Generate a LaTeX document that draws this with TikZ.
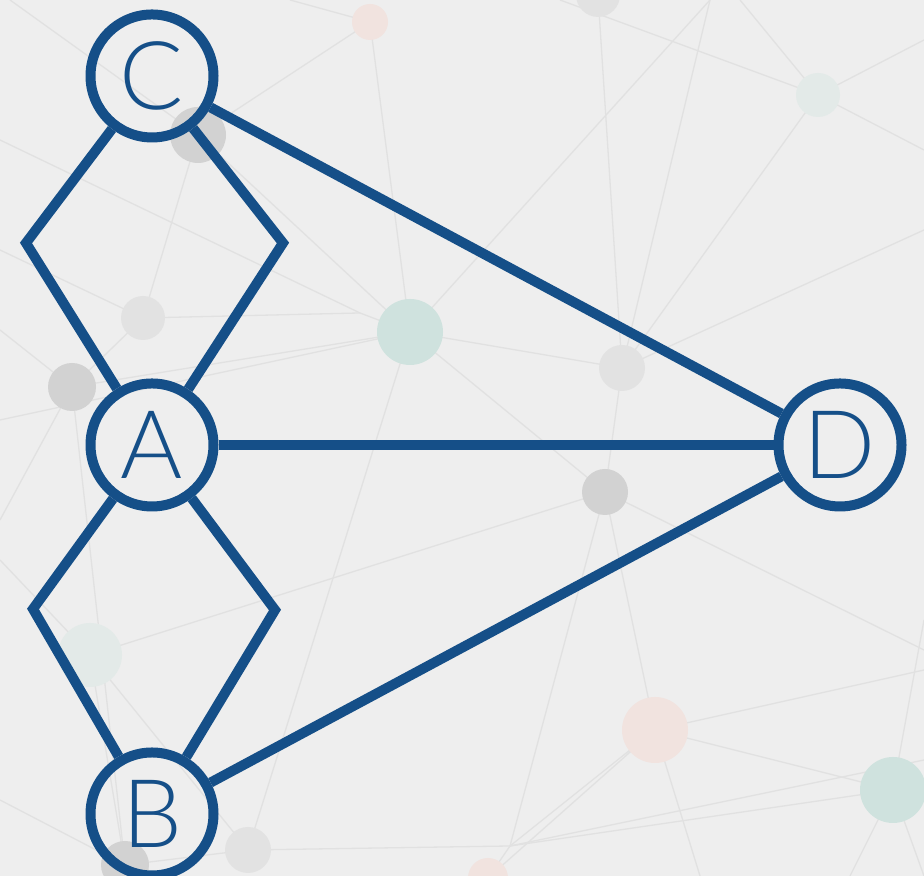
\documentclass[tikz,border=0pt]{standalone}
\usepackage{fontspec}
\setmainfont{Liberation Sans}
\newfontfamily\landfont{Lato}[UprightFont={* Light}]
\usepackage{tikz}
\usepackage{xcolor}
\definecolor{myblue}{HTML}{154F88}
\definecolor{mybg}{HTML}{EEEEEE}
\definecolor{mynet}{HTML}{E1E1E1}
\definecolor{mygrey}{HTML}{D2D2D2}
\definecolor{mylight}{HTML}{E2E2E2}
\definecolor{myteal}{HTML}{CFE2DE}
\definecolor{mypale}{HTML}{E3EAE8}
\definecolor{mypink}{HTML}{F1E3DF}

\begin{document}
\begin{tikzpicture}[
    land/.style={circle, draw=myblue, line width=0.1cm, minimum size=1.23cm, inner sep=0pt, text=myblue, font=\landfont\fontsize{27}{27}\selectfont},
    bridge/.style={draw=myblue, line width=0.1cm},
    net/.style={draw=mynet, line width=0.013cm}
]
    \useasboundingbox (0, 0) rectangle (9.24, 8.76);
    \clip (0, 0) rectangle (9.24, 8.76);
    \fill[mybg] (0, 0) rectangle (9.24, 8.76);
    \coordinate (n1) at (3.70, 8.54);
    \coordinate (n2) at (5.98, 8.81);
    \coordinate (n3) at (8.18, 7.81);
    \coordinate (n4) at (1.98, 7.41);
    \coordinate (n5) at (1.43, 5.58);
    \coordinate (n6) at (4.10, 5.44);
    \coordinate (n7) at (6.22, 5.08);
    \coordinate (n8) at (0.72, 4.89);
    \coordinate (n9) at (6.05, 3.84);
    \coordinate (n10) at (0.90, 2.21);
    \coordinate (n11) at (6.55, 1.46);
    \coordinate (n12) at (8.93, 0.86);
    \coordinate (n13) at (2.48, 0.26);
    \coordinate (n14) at (1.25, 0.11);
    \coordinate (n15) at (4.88, -0.02);
    \coordinate (n16) at (3.60, 5.63);
    \coordinate (n17) at (5.10, 0.30);
    \draw[net] (0.10, 8.76) -- (n4) -- (n1) -- (2.90, 8.76);
    \draw[net] (0, 7.36) -- (n16) -- (n6) -- (7.10, 8.76);
    \draw[net] (n4) -- (n6) -- (n1);
    \draw[net] (n4) -- (n5) -- (n8);
    \draw[net] (0, 6.26) -- (n5) -- (n16);
    \draw[net] (0, 4.56) -- (n6) -- (n7) -- (7.10, 8.76);
    \draw[net] (n6) -- (n13);
    \draw[net] (n6) -- (n9);
    \draw[net] (n8) -- (n6);
    \draw[net] (n2) -- (n7) -- (n3) -- (7.40, 8.76);
    \draw[net] (9.24, 7.26) -- (n3) -- (9.24, 8.36);
    \draw[net] (5.60, 8.76) -- (n3);
    \draw[net] (n7) -- (9.24, 6.46);
    \draw[net] (0, 5.46) -- (n8) -- (n14);
    \draw[net] (0, 3.56) -- (n8);
    \draw[net] (n7) -- (n9) -- (n11) -- (n12) -- (9.24, 2.56);
    \draw[net] (n9) -- (n10) -- (0, 3.16);
    \draw[net] (n9) -- (9.24, 2.26);
    \draw[net] (n9) -- (n17) -- (n12);
    \draw[net] (n10) -- (n14);
    \draw[net] (n10) -- (n13) -- (n17) -- (n11) -- (n15);
    \draw[net] (n11) -- (9.24, 2.06);
    \draw[net] (n11) -- (7.00, 0);
    \draw[net] (n12) -- (8.50, 0);
    \draw[net] (n12) -- (9.24, 0);
    \draw[net] (n17) -- (9.24, 1.16);
    \draw[net] (n17) -- (n15);
    \draw[net] (n13) -- (n14) -- (0, 0.76);
    \fill[mypink] (n1) circle (0.18);
    \fill[mylight] (n2) circle (0.22);
    \fill[mypale] (n3) circle (0.22);
    \fill[mygrey] (n4) circle (0.28);
    \fill[mylight] (n5) circle (0.22);
    \fill[myteal] (n6) circle (0.33);
    \fill[mylight] (n7) circle (0.23);
    \fill[mygrey] (n8) circle (0.24);
    \fill[mygrey] (n9) circle (0.23);
    \fill[mypale] (n10) circle (0.32);
    \fill[mypink] (n11) circle (0.33);
    \fill[myteal] (n12) circle (0.33);
    \fill[mylight] (n13) circle (0.23);
    \fill[mygrey] (n14) circle (0.24);
    \fill[mypink] (n15) circle (0.20);
    \node[land] (C) at (1.52, 8.00) {C};
    \node[land] (A) at (1.52, 4.31) {A};
    \node[land] (B) at (1.52, 0.62) {B};
    \node[land] (D) at (8.40, 4.31) {D};
    \coordinate (c1) at (0.26, 6.33);
    \coordinate (c2) at (2.83, 6.33);
    \coordinate (b1) at (0.33, 2.67);
    \coordinate (b2) at (2.75, 2.66);
    \draw[bridge] (C) -- (c1) -- (A);
    \draw[bridge] (C) -- (c2) -- (A);
    \draw[bridge] (A) -- (b1) -- (B);
    \draw[bridge] (A) -- (b2) -- (B);
    \draw[bridge] (C) -- (D);
    \draw[bridge] (A) -- (D);
    \draw[bridge] (B) -- (D);
\end{tikzpicture}
\end{document}
